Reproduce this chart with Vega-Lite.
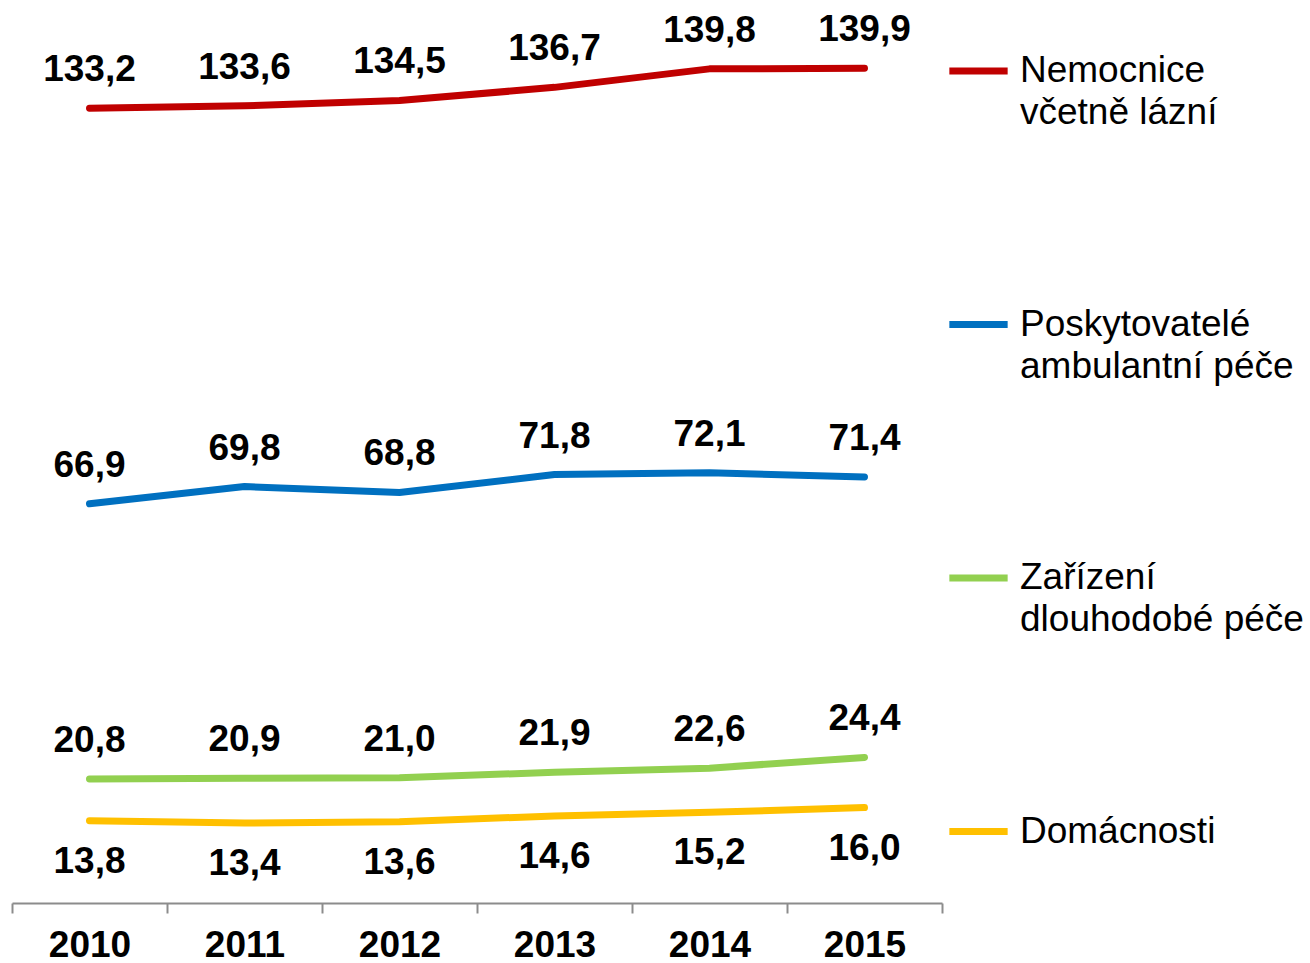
{
  "$schema": "https://vega.github.io/schema/vega-lite/v6.json",
  "width": 930,
  "height": 895,
  "autosize": {"type": "none"},
  "padding": {"left": 12, "top": 8, "right": 368, "bottom": 60},
  "config": {
    "view": {"stroke": null},
    "font": "Liberation Sans",
    "style": {"guide-label": {"lineHeight": 42}},
    "locale": {"number": {"decimal": ",", "thousands": " ", "grouping": [3], "currency": ["", " Kč"]}}
  },
  "data": {
    "values": [
      {"rok": "2010", "typ": "Nemocnice včetně lázní", "v": 133.2},
      {"rok": "2011", "typ": "Nemocnice včetně lázní", "v": 133.6},
      {"rok": "2012", "typ": "Nemocnice včetně lázní", "v": 134.5},
      {"rok": "2013", "typ": "Nemocnice včetně lázní", "v": 136.7},
      {"rok": "2014", "typ": "Nemocnice včetně lázní", "v": 139.8},
      {"rok": "2015", "typ": "Nemocnice včetně lázní", "v": 139.9},
      {"rok": "2010", "typ": "Poskytovatelé ambulantní péče", "v": 66.9},
      {"rok": "2011", "typ": "Poskytovatelé ambulantní péče", "v": 69.8},
      {"rok": "2012", "typ": "Poskytovatelé ambulantní péče", "v": 68.8},
      {"rok": "2013", "typ": "Poskytovatelé ambulantní péče", "v": 71.8},
      {"rok": "2014", "typ": "Poskytovatelé ambulantní péče", "v": 72.1},
      {"rok": "2015", "typ": "Poskytovatelé ambulantní péče", "v": 71.4},
      {"rok": "2010", "typ": "Zařízení dlouhodobé péče", "v": 20.8},
      {"rok": "2011", "typ": "Zařízení dlouhodobé péče", "v": 20.9},
      {"rok": "2012", "typ": "Zařízení dlouhodobé péče", "v": 21.0},
      {"rok": "2013", "typ": "Zařízení dlouhodobé péče", "v": 21.9},
      {"rok": "2014", "typ": "Zařízení dlouhodobé péče", "v": 22.6},
      {"rok": "2015", "typ": "Zařízení dlouhodobé péče", "v": 24.4},
      {"rok": "2010", "typ": "Domácnosti", "v": 13.8},
      {"rok": "2011", "typ": "Domácnosti", "v": 13.4},
      {"rok": "2012", "typ": "Domácnosti", "v": 13.6},
      {"rok": "2013", "typ": "Domácnosti", "v": 14.6},
      {"rok": "2014", "typ": "Domácnosti", "v": 15.2},
      {"rok": "2015", "typ": "Domácnosti", "v": 16.0}
    ]
  },
  "encoding": {
    "x": {
      "field": "rok", "type": "ordinal",
      "scale": {"type": "band", "paddingInner": 0, "paddingOuter": 0},
      "axis": {
        "title": null, "labelAngle": 0,
        "labelFont": "Liberation Sans", "labelFontWeight": "bold", "labelFontSize": 37, "labelColor": "#000000",
        "domainColor": "#8c8c8c", "domainWidth": 2, "tickColor": "#8c8c8c", "tickWidth": 2, "tickSize": 10,
        "tickBand": "extent", "labelPadding": 14, "grid": false
      }
    },
    "y": {"field": "v", "type": "quantitative", "scale": {"domain": [0, 150], "nice": false, "zero": true}, "axis": null}
  },
  "layer": [
    {
      "mark": {"type": "line", "strokeWidth": 7, "strokeCap": "round", "strokeJoin": "round"},
      "encoding": {
        "color": {
          "field": "typ", "type": "nominal",
          "scale": {
            "domain": ["Nemocnice včetně lázní", "Poskytovatelé ambulantní péče", "Zařízení dlouhodobé péče", "Domácnosti"],
            "range": ["#C00000", "#0070C0", "#92D050", "#FFC000"]
          },
          "legend": {
            "title": null, "orient": "none", "legendX": 933.5, "legendY": 30, "padding": 0,
            "symbolType": "stroke", "symbolStrokeWidth": 7, "symbolSize": 3400, "symbolOpacity": 1,
            "labelFont": "Liberation Sans", "labelFontSize": 37, "labelColor": "#000000", "labelLimit": 400,
            "labelOffset": 8.5, "rowPadding": 160.5,
            "labelExpr": "indexof(datum.label, ' ') > 0 ? [substring(datum.label, 0, indexof(datum.label, ' ')), substring(datum.label, indexof(datum.label, ' ') + 1)] : datum.label",
            "encoding": {
              "labels": {"update": {"lineHeight": {"value": 42}}},
              "symbols": {"update": {"strokeCap": {"value": "round"}}}
            }
          }
        }
      }
    },
    {
      "transform": [{"filter": "datum.typ != 'Domácnosti'"}],
      "mark": {"type": "text", "dy": -38, "fontSize": 37, "fontWeight": "bold", "color": "#000000", "font": "Liberation Sans"},
      "encoding": {"text": {"field": "v", "type": "quantitative", "format": ".1f"}}
    },
    {
      "transform": [{"filter": "datum.typ == 'Domácnosti'"}],
      "mark": {"type": "text", "dy": 41, "fontSize": 37, "fontWeight": "bold", "color": "#000000", "font": "Liberation Sans"},
      "encoding": {"text": {"field": "v", "type": "quantitative", "format": ".1f"}}
    }
  ]
}
